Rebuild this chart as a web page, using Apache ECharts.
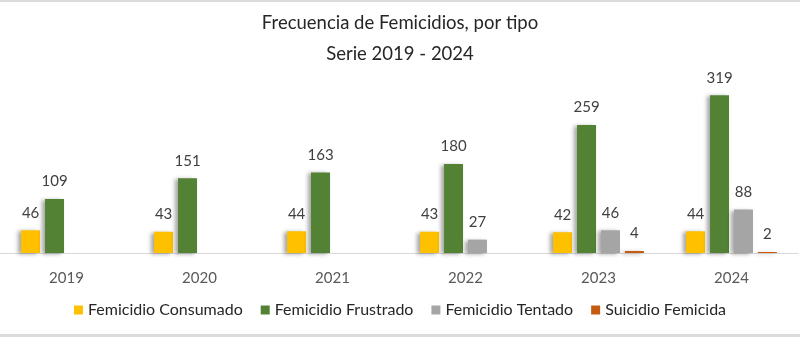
<!DOCTYPE html>
<html>
<head>
<meta charset="utf-8">
<script src="https://cdn.jsdelivr.net/npm/echarts@6/dist/echarts.min.js"></script>
<style>
html,body{margin:0;padding:0;background:#fff;}
#c{width:800px;height:337px;}
</style>
</head>
<body>
<div id="c"></div>
<script>
const years = ['2019','2020','2021','2022','2023','2024'];
const consumado = [46, 43, 44, 43, 42, 44];
const frustrado = [109, 151, 163, 180, 259, 319];
const tentado = ['-', '-', '-', 27, 46, 88];
const suicidio = ['-', '-', '-', '-', 4, 2];
const seriesNames = ['Femicidio Consumado','Femicidio Frustrado','Femicidio Tentado','Suicidio Femicida'];
const colors = ['#FFC000','#548235','#A5A5A5','#C55A11'];
const values = [consumado, frustrado, tentado, suicidio];

const FONT = 'Lato';
const chart = echarts.init(document.getElementById('c'), null, {renderer:'canvas'});
chart.setOption({
  animation: false,
  backgroundColor: '#fff',
  title: {
    text: 'Frecuencia de Femicidios, por tipo\nSerie 2019 - 2024',
    left: 'center',
    top: 3,
    textStyle: {fontFamily: FONT, fontSize: 18.5, fontWeight: 'normal', color: '#262626', lineHeight: 31}
  },
  legend: {
    bottom: 14,
    left: 'center',
    itemWidth: 9,
    itemHeight: 9,
    itemGap: 18,
    icon: 'rect',
    textStyle: {fontFamily: FONT, fontSize: 16, color: '#262626'},
    data: seriesNames
  },
  grid: {left: 0, right: 2, top: 80, bottom: 84, containLabel: false},
  xAxis: {
    type: 'category',
    data: years,
    axisLine: {lineStyle: {color: '#D9D9D9', width: 1}},
    axisTick: {show: false},
    axisLabel: {fontFamily: FONT, fontSize: 15, color: '#595959', margin: 18}
  },
  yAxis: {
    type: 'value', min: 0, max: 350,
    show: false,
    splitLine: {show: false}
  },
  graphic: [
    {type:'rect', shape:{x:0,y:0,width:800,height:2}, style:{fill:'#DCDCDC'}},
    {type:'rect', shape:{x:0,y:334,width:800,height:3}, style:{fill:'#DCDCDC'}}
  ],
  series: values.map((v, i) => ({
    name: seriesNames[i],
    type: 'bar',
    data: v,
    barWidth: 19,
    barGap: '26%',
    itemStyle: {
      color: colors[i],
      shadowColor: 'rgba(0,0,0,0.35)',
      shadowBlur: 4,
      shadowOffsetX: -3,
      shadowOffsetY: 1
    },
    label: {
      show: true,
      position: 'top',
      distance: 10,
      fontFamily: FONT,
      fontSize: 15,
      color: '#404040'
    }
  }))
});
</script>
</body>
</html>
